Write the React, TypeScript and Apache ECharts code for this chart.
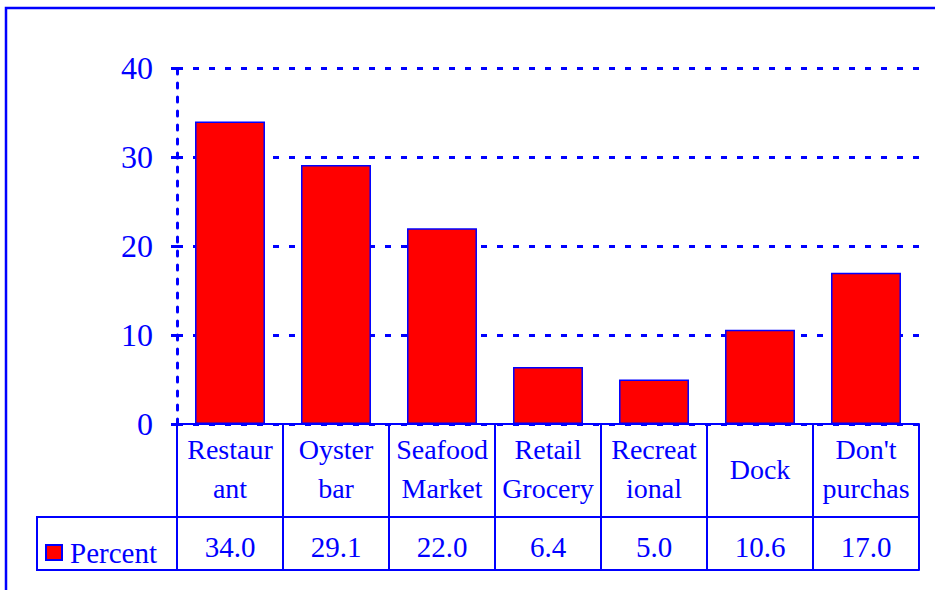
import React, { useEffect, useRef } from "react";
import * as echarts from "echarts";

const categories = ["Restaur\nant", "Oyster\nbar", "Seafood\nMarket", "Retail\nGrocery", "Recreat\nional", "Dock", "Don't\npurchas"];
const percentValues = [34.0, 29.1, 22.0, 6.4, 5.0, 10.6, 17.0];
const valueLabels = ["34.0", "29.1", "22.0", "6.4", "5.0", "10.6", "17.0"];
const yMin = 0;
const yMax = 40;
const yStep = 10;
const seriesName = "Percent";

const BLUE = "#0000FF";
const FONT = "'Liberation Serif', 'Times New Roman', serif";

export default function App() {
  const ref = useRef<HTMLDivElement>(null);
  useEffect(() => {
    if (!ref.current) return;
    const chart = echarts.init(ref.current, null, { renderer: "svg" });
    chart.setOption({
      animation: false,
      backgroundColor: "#ffffff",
      grid: { left: 177, right: 16, top: 68, bottom: 166 },
      legend: {
        show: true,
        left: 40,
        top: 533,
        itemWidth: 16,
        itemHeight: 15,
        icon: "rect",
        data: [seriesName],
        textStyle: { color: BLUE, fontSize: 29, fontFamily: FONT, padding: [0, 0, 0, 3] },
      },
      xAxis: [
        {
          type: "category",
          data: categories,
          position: "bottom",
          axisLine: { show: true, lineStyle: { color: BLUE, width: 2 } },
          axisTick: { show: true, interval: 0, length: 146, lineStyle: { color: BLUE, width: 2 } },
          axisLabel: {
            interval: 0,
            margin: 45,
            verticalAlign: "middle",
            color: BLUE,
            fontSize: 28,
            lineHeight: 39,
            fontFamily: FONT,
          },
          splitLine: { show: false },
        },
        {
          type: "category",
          data: valueLabels,
          position: "bottom",
          offset: 93,
          axisLine: { show: true, lineStyle: { color: BLUE, width: 2 } },
          axisTick: { show: false },
          axisLabel: {
            interval: 0,
            margin: 30,
            verticalAlign: "middle",
            color: BLUE,
            fontSize: 29,
            fontFamily: FONT,
          },
          splitLine: { show: false },
        },
        {
          type: "category",
          data: valueLabels,
          position: "bottom",
          offset: 146,
          axisLine: { show: true, lineStyle: { color: BLUE, width: 2 } },
          axisTick: { show: false },
          axisLabel: { show: false },
          splitLine: { show: false },
        },
      ],
      yAxis: {
        type: "value",
        min: yMin,
        max: yMax,
        interval: yStep,
        axisLine: { show: true, lineStyle: { color: BLUE, width: 3, type: [5, 9] } },
        axisTick: { show: true, length: 11, lineStyle: { color: BLUE, width: 3, type: [6, 10] } },
        axisLabel: { color: BLUE, fontSize: 32, fontFamily: FONT, margin: 24 },
        splitLine: { show: true, lineStyle: { color: BLUE, width: 3, type: [6, 10] } },
      },
      series: [
        {
          name: seriesName,
          type: "bar",
          xAxisIndex: 0,
          data: percentValues,
          barWidth: "66%",
          itemStyle: { color: "#FF0000", borderColor: BLUE, borderWidth: 1.5 },
        },
      ],
      graphic: [
        {
          type: "rect",
          shape: { x: 6, y: 8, width: 1000, height: 700 },
          style: { fill: "none", stroke: BLUE, lineWidth: 2.5 },
          silent: true,
        },
        {
          type: "polyline",
          shape: { points: [[177, 517], [37, 517], [37, 570], [177, 570]] },
          style: { fill: "none", stroke: BLUE, lineWidth: 2 },
          silent: true,
        },
      ],
    });
    return () => chart.dispose();
  }, []);
  return <div ref={ref} style={{ width: 935, height: 590, position: "absolute", left: 0, top: 0 }} />;
}
